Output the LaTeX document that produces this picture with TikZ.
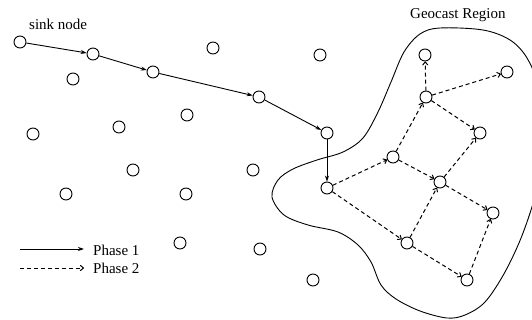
\documentclass[tikz,border=0pt]{standalone}
\usepackage{fontspec}
\setmainfont{Liberation Serif}
\usetikzlibrary{arrows.meta}
\begin{document}
\begin{tikzpicture}[x=1pt,y=-1pt,
  nd/.style={draw,circle,line width=0.9pt,inner sep=0pt,minimum size=12pt},
  ph1/.style={line width=0.9pt,-{Stealth[length=6pt,width=4pt]}},
  ph2/.style={line width=1pt,dash pattern=on 4pt off 3pt,-{To[length=4pt,width=6pt]}},
  lbl/.style={font=\fontsize{15}{17}\selectfont,inner sep=0pt}]
\useasboundingbox (0,0) rectangle (532,320);
% geocast region
\begin{scope}
\clip (0,0) rectangle (532,320);
\draw[line width=0.9pt] plot[smooth cycle,tension=0.55] coordinates{
 (440,28) (483,30) (510,40) (527,58) (540,90) (545,135) (538,185) (523,233)
 (505,272) (485,302) (465,315) (447,318) (420,311) (396,299) (381,285)
 (371,262) (358,245) (338,232) (308,225) (284,215) (272,197) (278,180)
 (293,169) (317,160) (343,152) (363,138) (378,112) (391,82) (404,52) (420,34)};
\end{scope}
% nodes
\node[nd] (sink) at (20,42) {};
\node[nd] (a2) at (93,54) {};
\node[nd] (a3) at (153,72) {};
\node[nd] (a4) at (259,97) {};
\node[nd] (a5) at (327,133) {};
\node[nd] (a6) at (327,188) {};
\node[nd] (i1) at (213,48) {};
\node[nd] (i2) at (320,55) {};
\node[nd] (i3) at (73,79) {};
\node[nd] (i4) at (187,115) {};
\node[nd] (i5) at (119,127) {};
\node[nd] (i6) at (33,134) {};
\node[nd] (i7) at (133,170) {};
\node[nd] (i8) at (253,170) {};
\node[nd] (i9) at (66,194) {};
\node[nd] (i10) at (186,194) {};
\node[nd] (i11) at (180,243) {};
\node[nd] (i12) at (260,249) {};
\node[nd] (i13) at (313,280) {};
\node[nd] (g1) at (425,55) {};
\node[nd] (g2) at (426,97) {};
\node[nd] (g3) at (507,72) {};
\node[nd] (g4) at (480,133) {};
\node[nd] (g5) at (393,157) {};
\node[nd] (g6) at (440,182) {};
\node[nd] (g7) at (493,213) {};
\node[nd] (g8) at (407,243) {};
\node[nd] (g9) at (467,280) {};
% phase 1
\draw[ph1] (sink) -- (a2);
\draw[ph1] (a2) -- (a3);
\draw[ph1] (a3) -- (a4);
\draw[ph1] (a4) -- (a5);
\draw[ph1] (a5) -- (a6);
% phase 2
\draw[ph2] (a6) -- (g5);
\draw[ph2] (a6) -- (g8);
\draw[ph2] (g5) -- (g6);
\draw[ph2] (g5) -- (g2);
\draw[ph2] (g8) -- (g6);
\draw[ph2] (g8) -- (g9);
\draw[ph2] (g6) -- (g4);
\draw[ph2] (g6) -- (g7);
\draw[ph2] (g9) -- (g7);
\draw[ph2] (g2) -- (g1);
\draw[ph2] (g2) -- (g3);
\draw[ph2] (g2) -- (g4);
% labels
\node[lbl,anchor=base west] (tsink) at (29,30) {sink node};
\node[lbl,anchor=base west] (tgeo) at (410,19) {Geocast Region};
% legend
\coordinate (l1a) at (20,249);
\coordinate (l1b) at (84,249);
\coordinate (l2a) at (20,268);
\coordinate (l2b) at (84,268);
\draw[ph1] (l1a) -- (l1b);
\draw[ph2] (l2a) -- (l2b);
\node[lbl,anchor=base west] (tp1) at (93,255) {Phase 1};
\node[lbl,anchor=base west] (tp2) at (93,273) {Phase 2};
\end{tikzpicture}
\end{document}
